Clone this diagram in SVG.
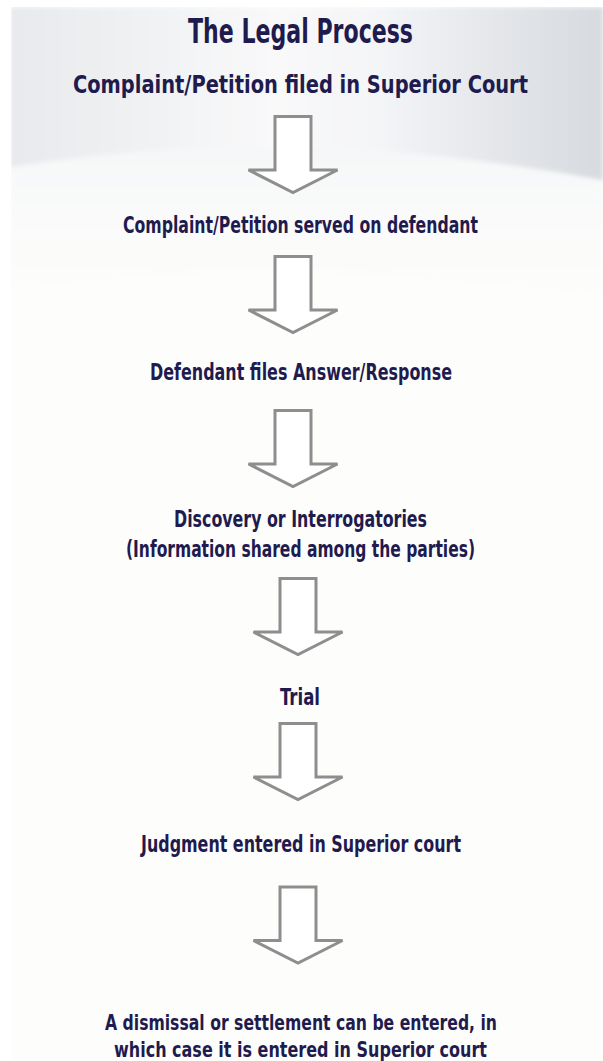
<svg xmlns="http://www.w3.org/2000/svg" width="603" height="1061" viewBox="0 0 603 1061">
  <style>
    .t { font-family: "DejaVu Sans Condensed", "DejaVu Sans", "Liberation Sans", sans-serif; font-stretch: condensed; font-weight: bold; fill: #1f1b4e; text-anchor: middle; }
    .title { font-size: 34px; }
    .sub { font-size: 25px; }
    .step { font-size: 22.5px; }
    .last { font-size: 21px; }
    .arrow { fill: #ffffff; stroke: #8e8e8e; stroke-width: 3; stroke-linejoin: miter; }
  </style>
  <defs>
    <linearGradient id="band" x1="0" y1="0" x2="1" y2="0">
      <stop offset="0" stop-color="#e7e9ed"/>
      <stop offset="0.18" stop-color="#eef0f2"/>
      <stop offset="0.45" stop-color="#f9f9fa"/>
      <stop offset="0.62" stop-color="#f4f5f7"/>
      <stop offset="0.82" stop-color="#e4e6ea"/>
      <stop offset="1" stop-color="#d7dadf"/>
    </linearGradient>
    <linearGradient id="lower" x1="0" y1="0" x2="0" y2="1">
      <stop offset="0" stop-color="#f6f7f8"/>
      <stop offset="1" stop-color="#fdfdfb"/>
    </linearGradient>
    <filter id="soft" x="-5%" y="-5%" width="110%" height="110%">
      <feGaussianBlur stdDeviation="2"/>
    </filter>
    <clipPath id="panel"><rect x="11" y="7" width="592" height="1054"/></clipPath>
    <path id="arr" d="M -18 0 H 18 V 53.5 H 44.5 L 0 76 L -44.5 53.5 H -18 Z"/>
  </defs>

  <g id="background">
    <rect x="0" y="0" width="603" height="1061" fill="#ffffff"/>
    <rect x="11" y="7" width="592" height="1054" fill="#fdfdfb"/>
    <g clip-path="url(#panel)">
      <path d="M11 160 Q 300 120 603 175 V 300 Q 300 250 11 290 Z" fill="url(#lower)" filter="url(#soft)"/>
      <path d="M11 7 H603 V180 Q 293 122 11 167 Z" fill="url(#band)" filter="url(#soft)"/>
    </g>
  </g>

  <g id="connectors">
    <use href="#arr" class="arrow" transform="translate(293 116.5)"/>
    <use href="#arr" class="arrow" transform="translate(293 256.5)"/>
    <use href="#arr" class="arrow" transform="translate(293 410.5)"/>
    <use href="#arr" class="arrow" transform="translate(298 578.5)"/>
    <use href="#arr" class="arrow" transform="translate(298 723.5)"/>
    <use href="#arr" class="arrow" transform="translate(298 887)"/>
  </g>

  <g id="title">
    <text class="t title" x="300.5" y="43" textLength="225" lengthAdjust="spacingAndGlyphs">The Legal Process</text>
  </g>
  <g id="node-filed">
    <text class="t sub" x="300.5" y="93" textLength="455" lengthAdjust="spacingAndGlyphs">Complaint/Petition filed in Superior Court</text>
  </g>
  <g id="node-served">
    <text class="t step" x="300.5" y="233" textLength="355" lengthAdjust="spacingAndGlyphs">Complaint/Petition served on defendant</text>
  </g>
  <g id="node-answer">
    <text class="t step" x="301" y="380" textLength="302" lengthAdjust="spacingAndGlyphs">Defendant files Answer/Response</text>
  </g>
  <g id="node-discovery">
    <text class="t step" x="300.5" y="527" textLength="253" lengthAdjust="spacingAndGlyphs">Discovery or Interrogatories</text>
    <text class="t step" x="300.5" y="557" textLength="349" lengthAdjust="spacingAndGlyphs">(Information shared among the parties)</text>
  </g>
  <g id="node-trial">
    <text class="t step" x="300" y="705" textLength="40" lengthAdjust="spacingAndGlyphs">Trial</text>
  </g>
  <g id="node-judgment">
    <text class="t step" x="301" y="852" textLength="320" lengthAdjust="spacingAndGlyphs">Judgment entered in Superior court</text>
  </g>
  <g id="node-dismissal">
    <text class="t last" x="301" y="1030" textLength="392" lengthAdjust="spacingAndGlyphs">A dismissal or settlement can be entered, in</text>
    <text class="t last" x="300.5" y="1057" textLength="373" lengthAdjust="spacingAndGlyphs">which case it is entered in Superior court</text>
  </g>
</svg>
